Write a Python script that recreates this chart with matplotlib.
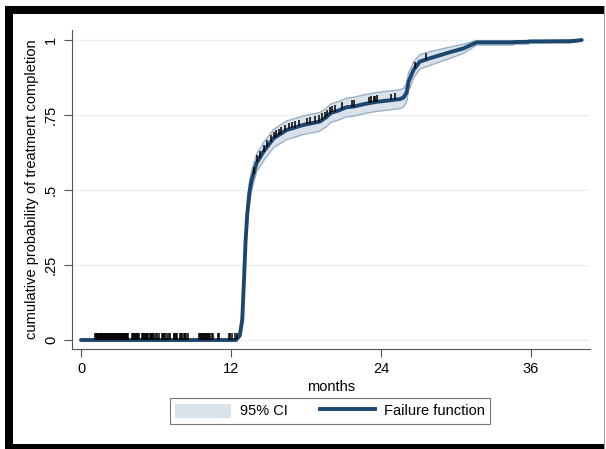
import numpy as np
import matplotlib.pyplot as plt
from matplotlib.patches import Rectangle, Patch
from matplotlib.lines import Line2D

plt.rcParams['font.family'] = ['Liberation Sans', 'DejaVu Sans']

# failure function (1 - KM)
months = [0, 12.4, 12.7, 12.9, 13.04, 13.17, 13.3, 13.47, 13.65, 14.05, 14.6, 15.4,
          16.45, 17.8, 19.1, 19.6, 20.0, 20.6, 21.25, 21.8, 22.6, 23.65, 24.5, 25.5,
          25.8, 26.05, 26.2, 26.45, 26.6, 27.1, 27.9, 29.25, 30.6, 31.65, 34.6, 34.65,
          35.8, 35.85, 39.1, 39.7, 40.05]
failure = [0, 0, 0.015, 0.067, 0.2, 0.333, 0.42, 0.49, 0.533, 0.59, 0.628, 0.672,
           0.70, 0.717, 0.728, 0.742, 0.757, 0.765, 0.776, 0.778, 0.786, 0.794, 0.798, 0.803,
           0.808, 0.825, 0.861, 0.885, 0.90, 0.928, 0.939, 0.956, 0.972, 0.992, 0.992, 0.993,
           0.994, 0.995, 0.996, 0.998, 1.0]
ci_low = [0, 0, 0.008, 0.05, 0.17, 0.30, 0.385, 0.455, 0.50, 0.56, 0.597, 0.641,
          0.668, 0.685, 0.696, 0.71, 0.725, 0.733, 0.744, 0.746, 0.754, 0.762, 0.766, 0.771,
          0.776, 0.793, 0.83, 0.855, 0.872, 0.903, 0.915, 0.935, 0.955, 0.983, 0.983, 0.986,
          0.986, 0.99, 0.99, 0.994, 0.998]
ci_high = [0, 0, 0.025, 0.09, 0.235, 0.37, 0.455, 0.525, 0.565, 0.62, 0.658, 0.702,
           0.73, 0.747, 0.758, 0.772, 0.787, 0.795, 0.806, 0.809, 0.817, 0.825, 0.829, 0.834,
           0.839, 0.855, 0.89, 0.912, 0.926, 0.951, 0.961, 0.974, 0.986, 0.998, 0.998, 0.998,
           0.998, 0.999, 0.999, 1.0, 1.0]

# censoring times
censored = [1.12, 1.18, 1.25, 1.31, 1.38, 1.44, 1.50, 1.57, 1.63, 1.70, 1.76, 1.83, 1.89,
            1.95, 2.02, 2.08, 2.15, 2.21, 2.28, 2.34, 2.40, 2.47, 2.53, 2.60, 2.66, 2.73,
            2.79, 2.85, 2.92, 2.98, 3.05, 3.11, 3.18, 3.24, 3.30, 3.37, 3.43, 3.50, 3.56,
            3.63, 3.69, 3.75, 4.05, 4.12, 4.18, 4.25, 4.31, 4.38, 4.44, 4.55, 4.62, 4.85,
            4.92, 4.98, 5.05, 5.11, 5.18, 5.24, 5.31, 5.37, 5.50, 5.56, 5.63, 5.69, 5.76,
            5.82, 6.00, 6.10, 6.20, 6.45, 6.55, 6.62, 6.70, 6.85, 7.05, 7.12, 7.40, 7.47,
            7.55, 7.62, 7.70, 7.90, 8.00, 8.08, 8.20, 8.30, 8.40, 8.55, 9.40, 9.50, 9.58,
            9.65, 9.75, 9.82, 9.90, 10.00, 10.08, 10.15, 10.25, 10.35, 10.45, 10.55, 10.95,
            11.05, 11.80, 11.90, 12.10, 12.30, 12.45,
            13.8, 14.1, 14.3, 14.6, 14.9, 15.2, 15.4, 15.6, 15.8, 16.0, 16.3, 16.6, 16.9,
            17.1, 17.4, 18.1, 18.3, 18.7, 19.0, 19.3, 19.5, 19.7, 19.9, 20.1, 20.3, 20.9,
            21.7, 21.8, 23.0, 23.2, 23.4, 23.5, 23.7, 24.8, 25.1, 26.7, 27.6]

x_ticks = [0, 12, 24, 36]
y_ticks = [0, 0.25, 0.5, 0.75, 1]
y_labels = ['0', '.25', '.5', '.75', '1']

navy = '#1a476f'
W, H = 606, 449
fig = plt.figure(figsize=(W / 100, H / 100), dpi=100)


def frame_bar(x0, y0, x1, y1, color='black'):
    # pixel box, y measured from the top of the picture
    fig.add_artist(Rectangle((x0 / W, 1 - y1 / H), (x1 - x0) / W, (y1 - y0) / H,
                             transform=fig.transFigure, facecolor=color,
                             edgecolor='none', zorder=10))


frame_bar(5, 6, 604, 14)      # top
frame_bar(5, 6, 13, 449)      # left
frame_bar(5, 444, 604, 449)   # bottom
frame_bar(603.5, 6, 605, 449, '#999999')  # right

ax = fig.add_axes([72 / W, 100 / H, 518 / W, 319 / H])
ax.set_xlim(-0.72, 40.72)
ax.set_ylim(-0.03, 1.0333)

ax.fill_between(months, ci_low, ci_high, facecolor='#d9e1eb', edgecolor='none', zorder=1)
ax.plot(months, ci_low, color='#9db1c6', lw=1, zorder=2)
ax.plot(months, ci_high, color='#9db1c6', lw=1, zorder=2)
ax.plot(months, failure, color=navy, lw=2.8, solid_capstyle='round', zorder=3)

cy = np.interp(censored, months, failure)
ax.vlines(censored, cy, cy + 0.022, color='black', lw=1.1, zorder=4)

for v in y_ticks:
    ax.axhline(v, color='#eaf1f3', lw=1, zorder=0)

ax.set_xticks(x_ticks)
ax.set_yticks(y_ticks)
ax.set_yticklabels(y_labels, rotation=90, va='center')
ax.tick_params(axis='both', colors='#555555', labelcolor='black', labelsize=10.5,
               length=6, width=0.8, direction='out')
ax.tick_params(axis='y', pad=4)
for s in ['top', 'right']:
    ax.spines[s].set_visible(False)
for s in ['left', 'bottom']:
    ax.spines[s].set_color('#555555')
    ax.spines[s].set_linewidth(0.8)

ax.set_xlabel('months', fontsize=10.5, labelpad=3)
ax.set_ylabel('cumulative probability of treatment completion', fontsize=10.5, labelpad=4)

handles = [Patch(facecolor='#d9e1eb', edgecolor='none'), Line2D([], [], color=navy, lw=2.8)]
leg = fig.legend(handles, ['95% CI', 'Failure function'], ncol=2, loc='center',
                 bbox_to_anchor=(330 / W, 1 - 411 / H), fontsize=10.5, frameon=True,
                 fancybox=False, edgecolor='#555555', handlelength=3.8, handleheight=1.1,
                 handletextpad=0.6, columnspacing=2.2, borderpad=0.35)
leg.get_frame().set_linewidth(0.8)

fig.savefig('out.png', dpi=100)
